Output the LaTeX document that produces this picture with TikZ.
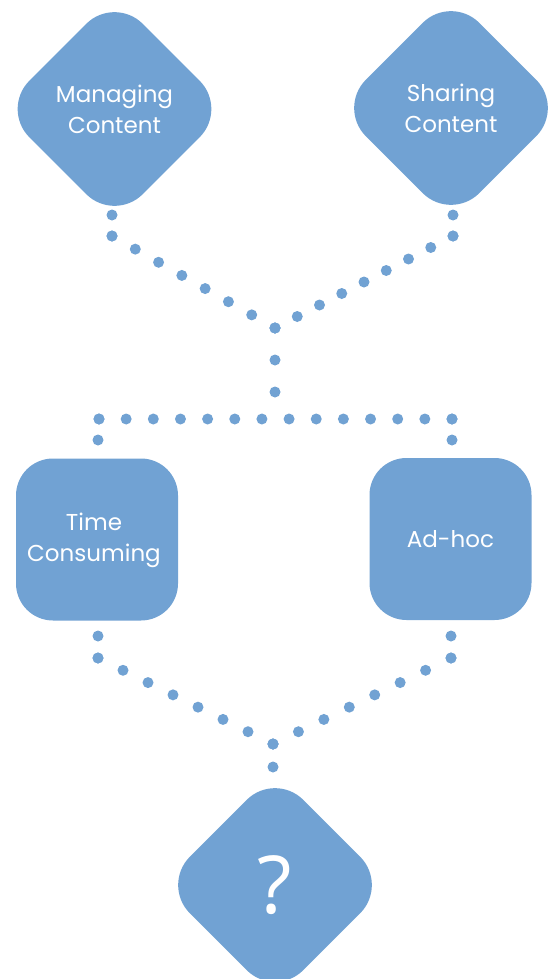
\documentclass[tikz,border=0pt]{standalone}
\usepackage{fontspec}
\setmainfont{Poppins}
\newfontfamily\qfont{Open Sans}
\usetikzlibrary{shapes.geometric,calc}
\definecolor{boxblue}{HTML}{71A2D3}
\tikzset{
  diam/.style={shape=diamond, fill=boxblue, draw=none, rounded corners=40pt,
    minimum width=227pt, minimum height=227pt, inner sep=0pt},
  sqbox/.style={shape=rectangle, fill=boxblue, draw=none, rounded corners=37pt,
    minimum width=162pt, minimum height=162pt, inner sep=0pt},
  lbl/.style={text=white, align=center, font=\fontsize{23}{31}\selectfont},
  dot/.style={fill=boxblue}
}
\newcommand{\dotrow}[3]{% from, to, gaps
  \foreach \k in {0,...,#3}{\fill[dot] ($(#1)!{\k/#3}!(#2)$) circle (5.5pt);}}
\begin{document}
\begin{tikzpicture}[x=1pt,y=-1pt]
\useasboundingbox (0,0) rectangle (551,979);
% shapes
\node[diam] (mc) at (114.5,109) {};
\node[lbl] at (mc.center) {Managing\\Content};
\node[diam] (sc) at (451,108) {};
\node[lbl] at (sc.center) {Sharing\\Content};
\node[sqbox] (tc) at (97,539.5) {};
\node[lbl] at ([xshift=-3pt,yshift=-1pt]tc.center) {Time\\Consuming};
\node[sqbox] (ah) at (450.5,539) {};
\node[lbl] at (ah.center) {Ad-hoc};
\node[diam] (q) at (275,885) {};
\node[text=white, font=\qfont\fontsize{80}{80}\selectfont] at (q.center) {?};
% junction coordinates
\coordinate (mA) at (112,215);
\coordinate (mB) at (112,236);
\coordinate (sA) at (453,215);
\coordinate (sB) at (453,236);
\coordinate (J1) at (275,328);
\coordinate (J2) at (275,392);
\coordinate (hL) at (99,419);
\coordinate (hR) at (452,419);
\coordinate (tA) at (98,440);
\coordinate (aA) at (452,440);
\coordinate (tB) at (98,636);
\coordinate (tC) at (98,658);
\coordinate (aB) at (451,636);
\coordinate (aC) at (451,658);
\coordinate (J3) at (273,744);
\coordinate (J4) at (273,767);
% dotted connectors
\dotrow{mA}{mB}{1}
\dotrow{mB}{J1}{7}
\dotrow{sA}{sB}{1}
\dotrow{sB}{J1}{8}
\dotrow{J1}{J2}{2}
\dotrow{hL}{hR}{13}
\dotrow{hL}{tA}{1}
\dotrow{hR}{aA}{1}
\dotrow{tB}{tC}{1}
\dotrow{tC}{J3}{7}
\dotrow{aB}{aC}{1}
\dotrow{aC}{J3}{7}
\dotrow{J3}{J4}{1}
\end{tikzpicture}
\end{document}
